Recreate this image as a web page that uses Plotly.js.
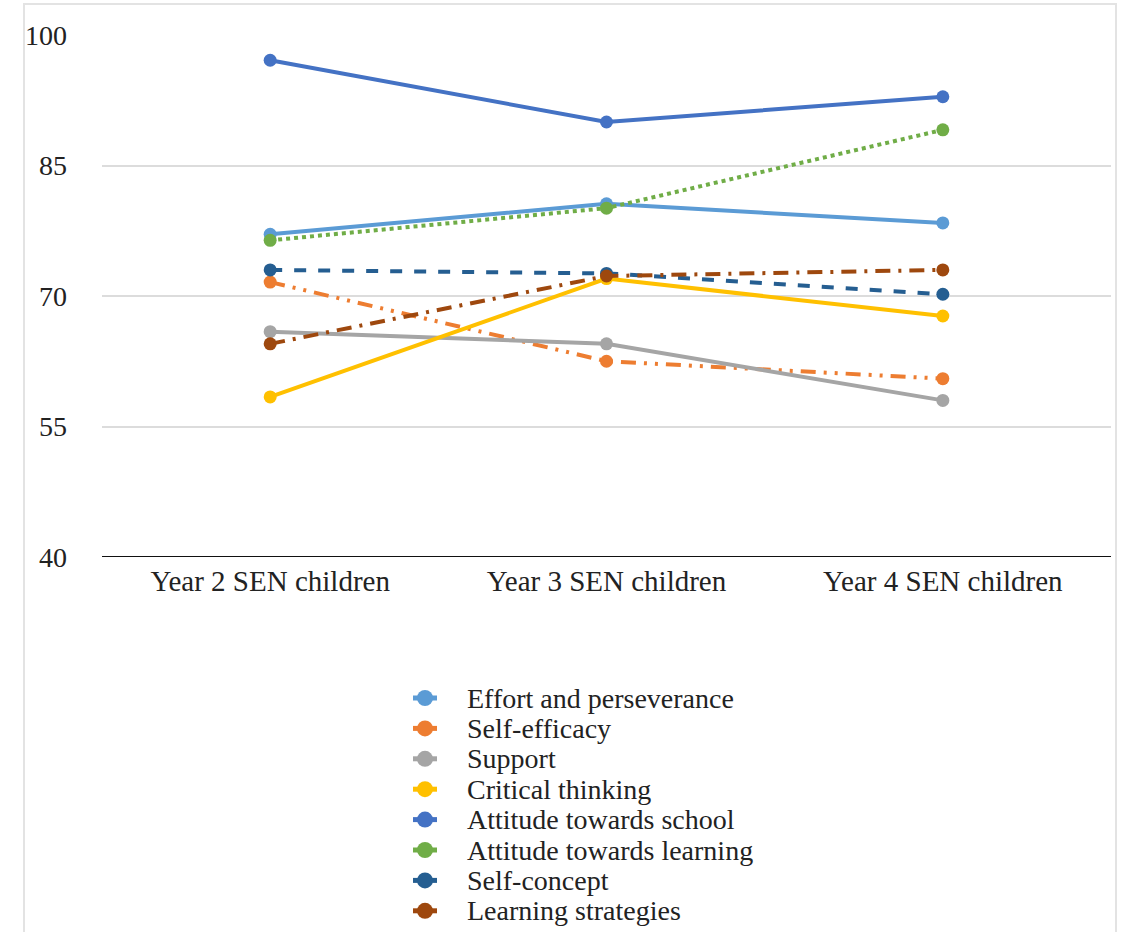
<!DOCTYPE html>
<html><head><meta charset="utf-8">
<script src="https://cdn.plot.ly/plotly-3.0.1.min.js"></script>
<style>html,body{margin:0;padding:0;background:#fff;}#chart{width:1121px;height:932px;}</style>
</head><body><div id="chart"></div>
<script>
const categories = ["Year 2 SEN children", "Year 3 SEN children", "Year 4 SEN children"];
const seriesNames = ["Effort and perseverance", "Self-efficacy", "Support", "Critical thinking",
  "Attitude towards school", "Attitude towards learning", "Self-concept", "Learning strategies"];
const effort = [77.1, 80.6, 78.4];
const selfEfficacy = [71.6, 62.5, 60.5];
const support = [65.9, 64.5, 58.0];
const criticalThinking = [58.4, 72.0, 67.7];
const attitudeSchool = [97.1, 90.0, 92.9];
const attitudeLearning = [76.4, 80.1, 89.1];
const selfConcept = [73.0, 72.6, 70.2];
const learningStrategies = [64.5, 72.3, 73.0];
const yTicks = [40, 55, 70, 85, 100];

const values = [effort, selfEfficacy, support, criticalThinking, attitudeSchool, attitudeLearning, selfConcept, learningStrategies];
const colors = ["#5B9BD5", "#ED7D31", "#A5A5A5", "#FFC000", "#4472C4", "#70AD47", "#255E91", "#9E480E"];
const dashes = ["solid", "15px,8px,3px,8px,3px,8px", "solid", "solid", "solid", "dot", "dash", "15px,8px,3px,8px"];

const W = 1121, H = 932;
const M = {l: 102, r: 10, t: 35, b: 375};
const plotW = W - M.l - M.r, plotH = H - M.t - M.b;
const pxX = p => (p - M.l) / plotW;
const pxY = p => (H - M.b - p) / plotH;
const FONT = "Liberation Serif, Times New Roman, serif";

const traces = values.map((v, i) => ({
  x: categories, y: v, type: "scatter", mode: "lines+markers", name: seriesNames[i],
  showlegend: false,
  line: {color: colors[i], width: 4, dash: dashes[i]},
  marker: {color: colors[i], size: 13}
}));

// Legend drawn as shapes + annotations (Excel-style compact legend)
const legTop = 698, legStep = 30.4, legKeyX = 425, legTextX = 465;
const shapes = [
  {type: "line", xref: "paper", yref: "y", x0: 0, x1: 1, y0: 40, y1: 40, line: {color: "#111", width: 2}},
  {type: "rect", xref: "paper", yref: "paper", x0: pxX(24), x1: pxX(1116), y0: pxY(960), y1: pxY(4),
   line: {color: "#e3e3e3", width: 2}, layer: "below"}
];
const annotations = [];
seriesNames.forEach((name, i) => {
  const cy = legTop + i * legStep;
  shapes.push({type: "line", xref: "paper", yref: "paper", x0: pxX(legKeyX - 12), x1: pxX(legKeyX + 12),
    y0: pxY(cy), y1: pxY(cy), line: {color: colors[i], width: 5}});
  shapes.push({type: "circle", xref: "paper", yref: "paper", xsizemode: "pixel", ysizemode: "pixel",
    xanchor: pxX(legKeyX), yanchor: pxY(cy), x0: -8, x1: 8, y0: -8, y1: 8,
    fillcolor: colors[i], line: {color: colors[i], width: 0}});
  annotations.push({xref: "paper", yref: "paper", x: pxX(legTextX), y: pxY(cy), xanchor: "left", yanchor: "middle",
    text: name, showarrow: false, font: {family: FONT, size: 28, color: "#222"}});
});

const layout = {
  width: W, height: H,
  margin: {l: M.l, r: M.r, t: M.t, b: M.b, autoexpand: false},
  paper_bgcolor: "#ffffff", plot_bgcolor: "#ffffff",
  font: {family: FONT, color: "#222", size: 28},
  showlegend: false,
  xaxis: {
    type: "category", range: [-0.5, 2.5], showgrid: false, zeroline: false,
    showline: false, ticks: "", ticklabelstandoff: 4, tickfont: {size: 29, color: "#222"}, fixedrange: true
  },
  yaxis: {
    range: [40, 100], tickvals: yTicks, ticktext: yTicks.map(String),
    showgrid: true, gridcolor: "#dcdcdc", gridwidth: 2, zeroline: false,
    showline: false, ticks: "", ticklabelstandoff: 34, tickfont: {size: 28, color: "#222"}
  },
  shapes: shapes,
  annotations: annotations
};
Plotly.newPlot("chart", traces, layout, {staticPlot: true});
</script>
</body></html>
